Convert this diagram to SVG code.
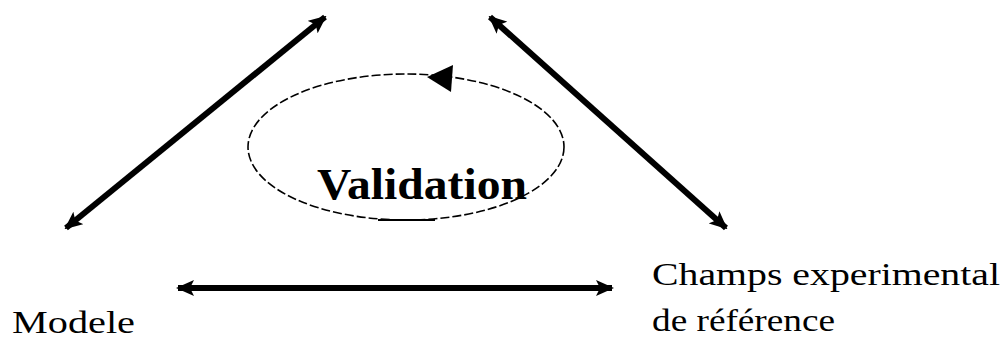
<svg xmlns="http://www.w3.org/2000/svg" width="1005" height="340" viewBox="0 0 1005 340">
<style>
.conn{stroke:#000;stroke-width:6;fill:none;marker-start:url(#ah);marker-end:url(#ah)}
.lbl{font-family:"Liberation Serif","Times New Roman",serif;font-size:31px;fill:#000}
.val{font-family:"Liberation Serif","Times New Roman",serif;font-size:44px;font-weight:bold;fill:#000}
</style>
<defs>
<marker id="ah" viewBox="0 0 18 16" refX="16" refY="8" markerWidth="18" markerHeight="16" markerUnits="userSpaceOnUse" orient="auto-start-reverse">
<path d="M0,0 L18,8 L0,16 L4,8 Z" fill="#000"/>
</marker>
</defs>
<rect width="1005" height="340" fill="#fff"/>
<g id="cycle">
<ellipse cx="406" cy="147" rx="158" ry="73" fill="none" stroke="#000" stroke-width="1.6" stroke-dasharray="9,3"/>
<path d="M378,220 L435,220" stroke="#000" stroke-width="2"/>
<path d="M427,77 L453,65 L451,92 Z" fill="#000"/>
</g>
<g id="validation">
<text class="val" x="317" y="199" textLength="210" lengthAdjust="spacingAndGlyphs">Validation</text>
</g>
<g id="modele">
<text class="lbl" x="12" y="333" textLength="123" lengthAdjust="spacingAndGlyphs">Modele</text>
</g>
<g id="champs">
<text class="lbl" x="652" y="285" textLength="348" lengthAdjust="spacingAndGlyphs">Champs experimental</text>
<text class="lbl" x="652" y="331" textLength="183" lengthAdjust="spacingAndGlyphs">de référence</text>
</g>
<g id="connectors">
<line class="conn" x1="66" y1="228" x2="325" y2="17"/>
<line class="conn" x1="490" y1="17" x2="726" y2="228"/>
<line class="conn" x1="178" y1="288" x2="612" y2="288"/>
</g>
</svg>
